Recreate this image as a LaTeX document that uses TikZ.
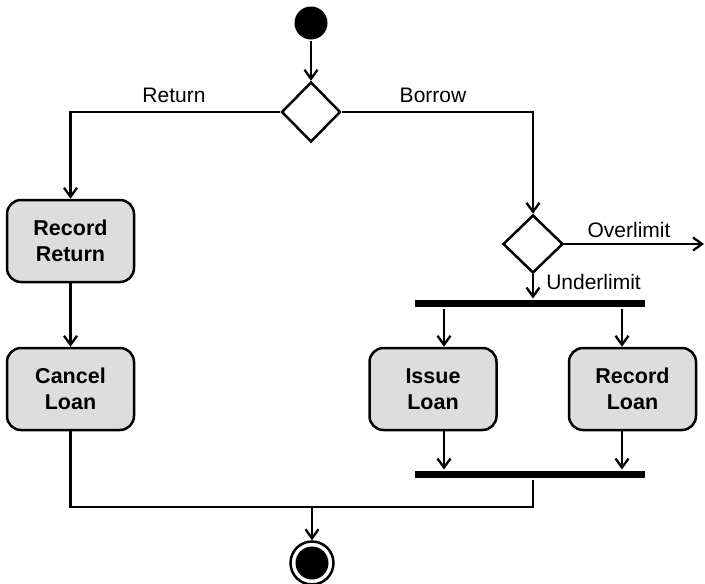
\documentclass[tikz,border=0pt]{standalone}
\usepackage{fontspec}
\setmainfont{Liberation Sans}
\usetikzlibrary{shapes.geometric,arrows.meta,calc}
\begin{document}
\begin{tikzpicture}[x=1pt,y=-1pt,
  line width=2.5pt,
  arr/.style={-{Straight Barb[length=9pt,width=13pt,line width=2.3pt]}},
  actbox/.style={draw, rounded corners=14pt, fill=gray!27, minimum width=127pt, minimum height=82pt, align=center, inner sep=0pt, font=\bfseries\fontsize{21.5}{26.5}\selectfont},
  decis/.style={draw, diamond, fill=white, minimum width=59pt, minimum height=60pt, inner sep=0pt},
  syncbar/.style={fill=black, draw=none, minimum width=230pt, minimum height=7.5pt, inner sep=0pt},
  lbl/.style={font=\fontsize{21}{24}\selectfont, inner sep=0pt}
]
\useasboundingbox (0,0) rectangle (705,584);
% nodes
\node[circle, fill=black, minimum size=33pt, inner sep=0pt] (start) at (311,23) {};
\node[decis] (d1) at (311,112) {};
\node[decis, minimum width=60pt, minimum height=58pt] (d2) at (533,244) {};
\node[actbox] (rr) at (70.5,241) {Record\\Return};
\node[actbox] (cl) at (70.5,389) {Cancel\\Loan};
\node[actbox] (il) at (433,389) {Issue\\Loan};
\node[actbox] (rl) at (632.5,389) {Record\\Loan};
\node[syncbar] (b1) at (530,303.5) {};
\node[syncbar] (b2) at (530,474.5) {};
\node[circle, draw, line width=2.5pt, minimum size=43pt, inner sep=0pt, fill=white] (fin) at (312,563) {};
\node[circle, fill=black, minimum size=33pt, inner sep=0pt] (finc) at (fin.center) {};
\coordinate (ovend) at (704,244);
\coordinate (join) at (533,507);
\coordinate (jl) at (70.5,507);
\coordinate (jm) at (312,507);
% connectors
\draw[arr] (start) -- (d1.north);
\draw[arr] (d1.west) -| (rr.north);
\draw[arr] (d1.east) -| (d2.north);
\draw[arr] (rr.south) -- (cl.north);
\draw[arr] (d2.east) -- (ovend);
\draw[arr] (d2.south) -- (d2.south |- b1.north);
\draw[arr] ([xshift=11pt]il.north |- b1.south) -- ([xshift=11pt]il.north);
\draw[arr] ([xshift=-10.5pt]rl.north |- b1.south) -- ([xshift=-10.5pt]rl.north);
\draw[arr] ([xshift=11pt]il.south) -- ([xshift=11pt]il.south |- b2.north);
\draw[arr] ([xshift=-10.5pt]rl.south) -- ([xshift=-10.5pt]rl.south |- b2.north);
\draw (join |- b2.south) -- (join) -- (jl) -- (cl.south);
\draw[arr] (jm) -- (fin.north);
% labels
\node[lbl, anchor=base] at (174,102) {Return};
\node[lbl, anchor=base] at (433,102) {Borrow};
\node[lbl, anchor=base] at (629,237) {Overlimit};
\node[lbl, anchor=base west] at (545,289) {Underlimit};
\end{tikzpicture}
\end{document}
